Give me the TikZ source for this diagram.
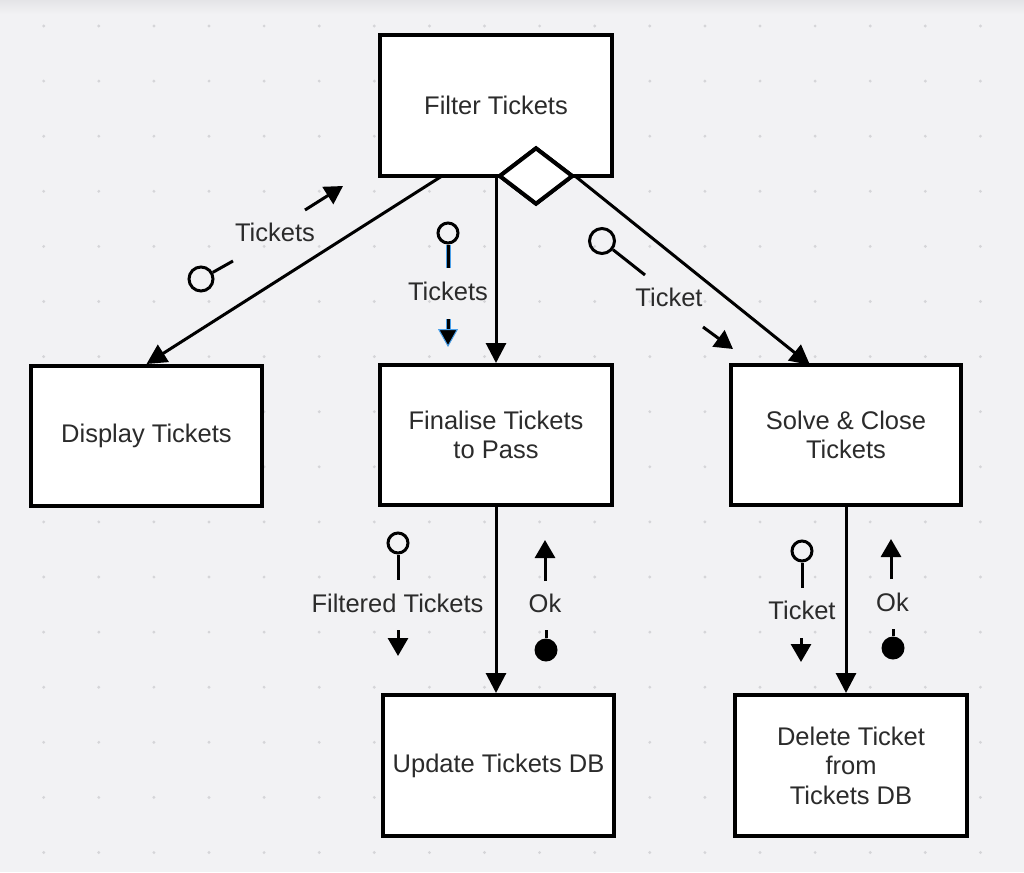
\documentclass[tikz,border=0pt]{standalone}
\usepackage{fontspec}
\setmainfont{Liberation Sans}
\usetikzlibrary{arrows.meta,shapes.geometric}
\definecolor{bg}{HTML}{F2F2F4}
\definecolor{bgtop}{HTML}{E4E4E7}
\definecolor{dotc}{HTML}{D5D5D8}
\definecolor{txt}{HTML}{2B2B2B}
\definecolor{hl}{HTML}{4A9FE8}
\tikzset{
  txtfont/.style={font=\fontsize{25.5}{29.5}\selectfont},
  box/.style={draw=black, line width=4pt, fill=white, inner sep=0pt, align=center, text=txt, txtfont},
  flow/.style={line width=3pt, -{Triangle[length=20pt,width=20pt]}},
  lbl/.style={text=txt, txtfont, inner sep=0pt},
  ring/.style={circle, draw=black, line width=3pt, inner sep=0pt},
  blob/.style={circle, fill=black, inner sep=0pt, minimum size=23pt},
  stub/.style={line width=3pt},
  cplarrow/.style={line width=3pt, -{Triangle[length=18pt,width=20pt]}},
}
\begin{document}
\begin{tikzpicture}[x=1pt,y=-1pt]
\useasboundingbox (0,0) rectangle (1024,872);
\fill[bg] (0,0) rectangle (1024,872);
\shade[top color=bgtop, bottom color=bg] (0,0) rectangle (1024,14);
% dot grid
\foreach \i in {0,...,18}{
  \foreach \j in {0,...,15}{
    \fill[dotc] ({43.7+55.1*\i},{26+55.1*\j}) circle (1.6);
  }
}
% boxes
\node[box, minimum width=232pt, minimum height=141pt] (filter) at (496,105.5) {Filter Tickets};
\node[box, minimum width=231pt, minimum height=140pt] (disp) at (146.5,436) {Display Tickets};
\node[box, minimum width=232pt, minimum height=140pt] (fin) at (496,435) {Finalise Tickets\\to Pass};
\node[box, minimum width=230pt, minimum height=140pt] (solve) at (846,435) {Solve \& Close\\Tickets};
\node[box, minimum width=231pt, minimum height=141pt] (upd) at (498.5,765.5) {Update Tickets DB};
\node[box, minimum width=232pt, minimum height=141pt] (del) at (851,765.5) {Delete Ticket\\from\\Tickets DB};
\node[diamond, draw=black, fill=white, line width=4pt, inner sep=0pt, minimum width=74pt, minimum height=57pt] (dia) at (536,176) {};
% connectors
\coordinate (e1s) at (442,176);
\coordinate (e3t) at (810,365);
\draw[flow] (e1s) -- (disp.north);
\draw[flow] (filter.south) -- (fin.north);
\draw[flow] (dia.east) -- (e3t);
\draw[flow] (fin.south) -- (fin.south |- upd.north);
\draw[flow] (solve.south) -- (solve.south |- del.north);
% redraw diamond on top
\node[diamond, draw=black, fill=white, line width=4pt, inner sep=0pt, minimum width=74pt, minimum height=57pt] (dia2) at (536,176) {};
% couple 1
\node[ring, minimum size=24pt] (r1) at (201,279) {};
\coordinate (r1e) at (233,261);
\draw[stub] (r1) -- (r1e);
\coordinate (a1s) at (305,210);
\coordinate (a1t) at (343,186);
\draw[cplarrow] (a1s) -- (a1t);
\node[lbl] (l1) at (275,232) {Tickets};
% couple 2 (highlighted)
\node[ring, minimum size=20pt] (r2) at (448,233) {};
\coordinate (r2e) at (448,268);
\draw[line width=5pt, hl] (r2.south) -- (r2e);
\draw[stub] (r2) -- (r2e);
\coordinate (a2s) at (448,319);
\coordinate (a2t) at (448,347);
\draw[line width=5pt, hl] (a2s) -- (448,330);
\draw[line width=3pt, -{Triangle[length=18pt,width=20pt,fill=black,color=hl,line width=1pt]}] (a2s) -- (a2t);
\node[lbl] (l2) at (448,291) {Tickets};
% couple 3
\node[ring, minimum size=25pt] (r3) at (602,241) {};
\coordinate (r3e) at (645,275);
\draw[stub] (r3) -- (r3e);
\coordinate (a3s) at (703,327);
\coordinate (a3t) at (733,349);
\draw[cplarrow] (a3s) -- (a3t);
\node[lbl] (l3) at (669,297.5) {Ticket};
% couple 4
\node[ring, minimum size=20pt] (r4) at (398,543) {};
\coordinate (r4e) at (398,580);
\draw[stub] (r4) -- (r4e);
\coordinate (a4s) at (398,630);
\coordinate (a4t) at (398,656);
\draw[cplarrow] (a4s) -- (a4t);
\node[lbl] (l4) at (397.5,603) {Filtered Tickets};
\coordinate (o4s) at (545,581);
\coordinate (o4t) at (545,540);
\draw[cplarrow] (o4s) -- (o4t);
\node[lbl] (ok4) at (545,603) {Ok};
\node[blob] (b4) at (546,650) {};
\coordinate (b4e) at (546,630);
\draw[stub] (b4e) -- (b4);
% couple 5
\node[ring, minimum size=20pt] (r5) at (802,551) {};
\coordinate (r5e) at (802,588);
\draw[stub] (r5) -- (r5e);
\coordinate (a5s) at (801,638);
\coordinate (a5t) at (801,662);
\draw[cplarrow] (a5s) -- (a5t);
\node[lbl] (l5) at (802,610) {Ticket};
\coordinate (o5s) at (891,579);
\coordinate (o5t) at (891,539);
\draw[cplarrow] (o5s) -- (o5t);
\node[lbl] (ok5) at (892.5,602) {Ok};
\node[blob] (b5) at (893,648) {};
\coordinate (b5e) at (893,629);
\draw[stub] (b5e) -- (b5);
\end{tikzpicture}
\end{document}
